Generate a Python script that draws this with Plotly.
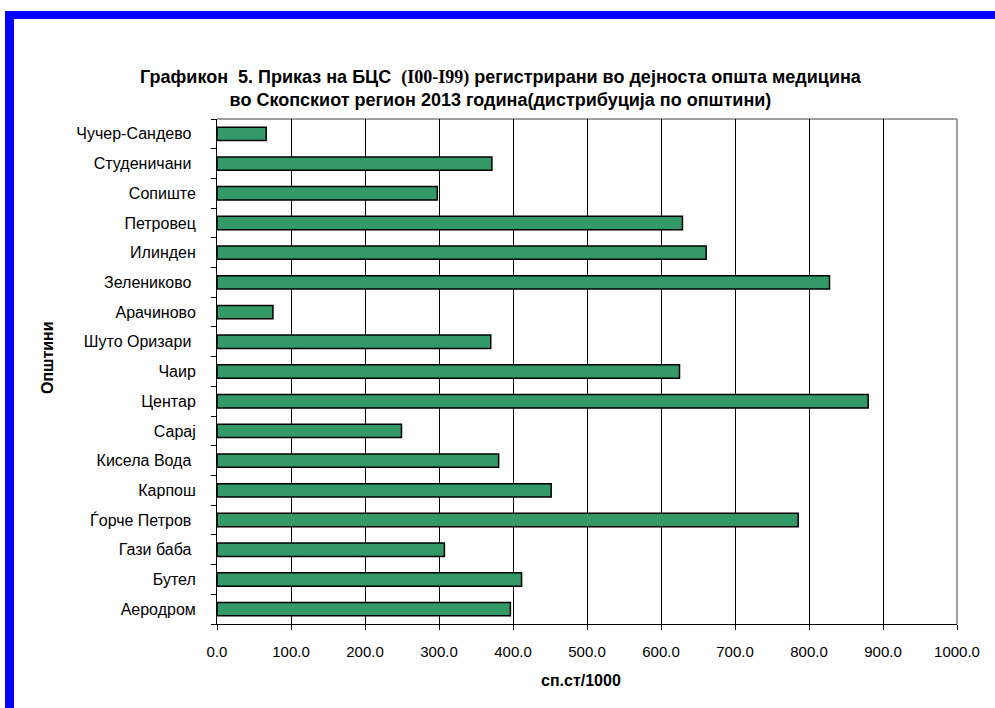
import plotly.graph_objects as go

# Municipalities (bottom to top as drawn) and rates per 1000 inhabitants
municipalities = [
    "Аеродром", "Бутел", "Гази баба ", "Ѓорче Петров ", "Карпош", "Кисела Вода ",
    "Сарај", "Центар", "Чаир", "Шуто Оризари ", "Арачиново", "Зелениково ",
    "Илинден", "Петровец", "Сопиште", "Студеничани ", "Чучер-Сандево ",
]
rates = [
    396.5, 411.6, 307.3, 785.4, 451.6, 380.6,
    249.3, 880.0, 625.0, 369.9, 75.6, 827.7,
    661.0, 629.0, 297.7, 371.5, 66.5,
]
x_ticks = [0, 100, 200, 300, 400, 500, 600, 700, 800, 900, 1000]

W, H = 995, 708
L, R, T, B = 217, 957, 119, 624  # plot area in pixels

def px(xp):
    return (xp - L) / (R - L)

def py(yp):
    return (B - yp) / (B - T)

FONT = "Liberation Sans, Arial, sans-serif"

fig = go.Figure(
    go.Bar(
        x=rates,
        y=municipalities,
        orientation="h",
        width=0.45,
        marker=dict(color="#339966", line=dict(color="black", width=1.5)),
        hoverinfo="x+y",
    )
)

title_text = (
    "Графикон&nbsp;&nbsp;5. Приказ на БЦС&nbsp;&nbsp;"
    "<span style='font-family:Liberation Serif, Times New Roman, serif'>(I00-I99)</span>"
    " регистрирани во дејноста општа медицина<br>"
    "во Скопскиот регион 2013 година(дистрибуција по општини)"
)

fig.update_layout(
    width=W,
    height=H,
    margin=dict(l=L, r=W - R, t=T, b=H - B),
    paper_bgcolor="white",
    plot_bgcolor="white",
    showlegend=False,
    font=dict(family=FONT, size=15, color="black"),
    title=dict(
        text="<b>" + title_text + "</b>",
        x=0.503,
        xanchor="center",
        y=1 - 83 / H,
        yanchor="middle",
        font=dict(family=FONT, size=18, color="black"),
    ),
    xaxis=dict(
        range=[0, 1000],
        tickvals=x_ticks,
        tickformat=".1f",
        showgrid=True,
        gridcolor="black",
        gridwidth=1,
        showline=True,
        linecolor="black",
        linewidth=1,
        ticks="outside",
        ticklen=5,
        tickcolor="black",
        ticklabelstandoff=9,
        zeroline=False,
        tickfont=dict(size=15),
        fixedrange=True,
    ),
    yaxis=dict(
        showgrid=False,
        showline=True,
        linecolor="black",
        linewidth=1,
        ticks="outside",
        tickson="boundaries",
        ticklen=5,
        tickcolor="black",
        ticklabelstandoff=17,
        tickfont=dict(size=16),
        fixedrange=True,
    ),
    shapes=[
        # gray frame on the top and right of the plot area
        dict(type="line", xref="paper", yref="paper", x0=0, x1=1, y0=1, y1=1,
             line=dict(color="#808080", width=1.5), layer="between"),
        dict(type="line", xref="paper", yref="paper", x0=1, x1=1, y0=0, y1=1,
             line=dict(color="#808080", width=1.5), layer="between"),
        # blue page frame
        dict(type="rect", xref="paper", yref="paper",
             x0=px(5), x1=px(1000), y0=py(19), y1=py(11),
             fillcolor="#0000FF", line=dict(width=0), layer="above"),
        dict(type="rect", xref="paper", yref="paper",
             x0=px(5), x1=px(14), y0=py(715), y1=py(11),
             fillcolor="#0000FF", line=dict(width=0), layer="above"),
    ],
    annotations=[
        dict(text="<b>Општини</b>", textangle=-90, xref="paper", yref="paper",
             x=px(47), y=py(358), xanchor="center", yanchor="middle",
             showarrow=False, font=dict(family=FONT, size=16)),
        dict(text="<b>сп.ст/1000</b>", xref="paper", yref="paper",
             x=px(581), y=py(680), xanchor="center", yanchor="middle",
             showarrow=False, font=dict(family=FONT, size=16)),
    ],
)

fig.write_html("out.html", config={"displayModeBar": False})
